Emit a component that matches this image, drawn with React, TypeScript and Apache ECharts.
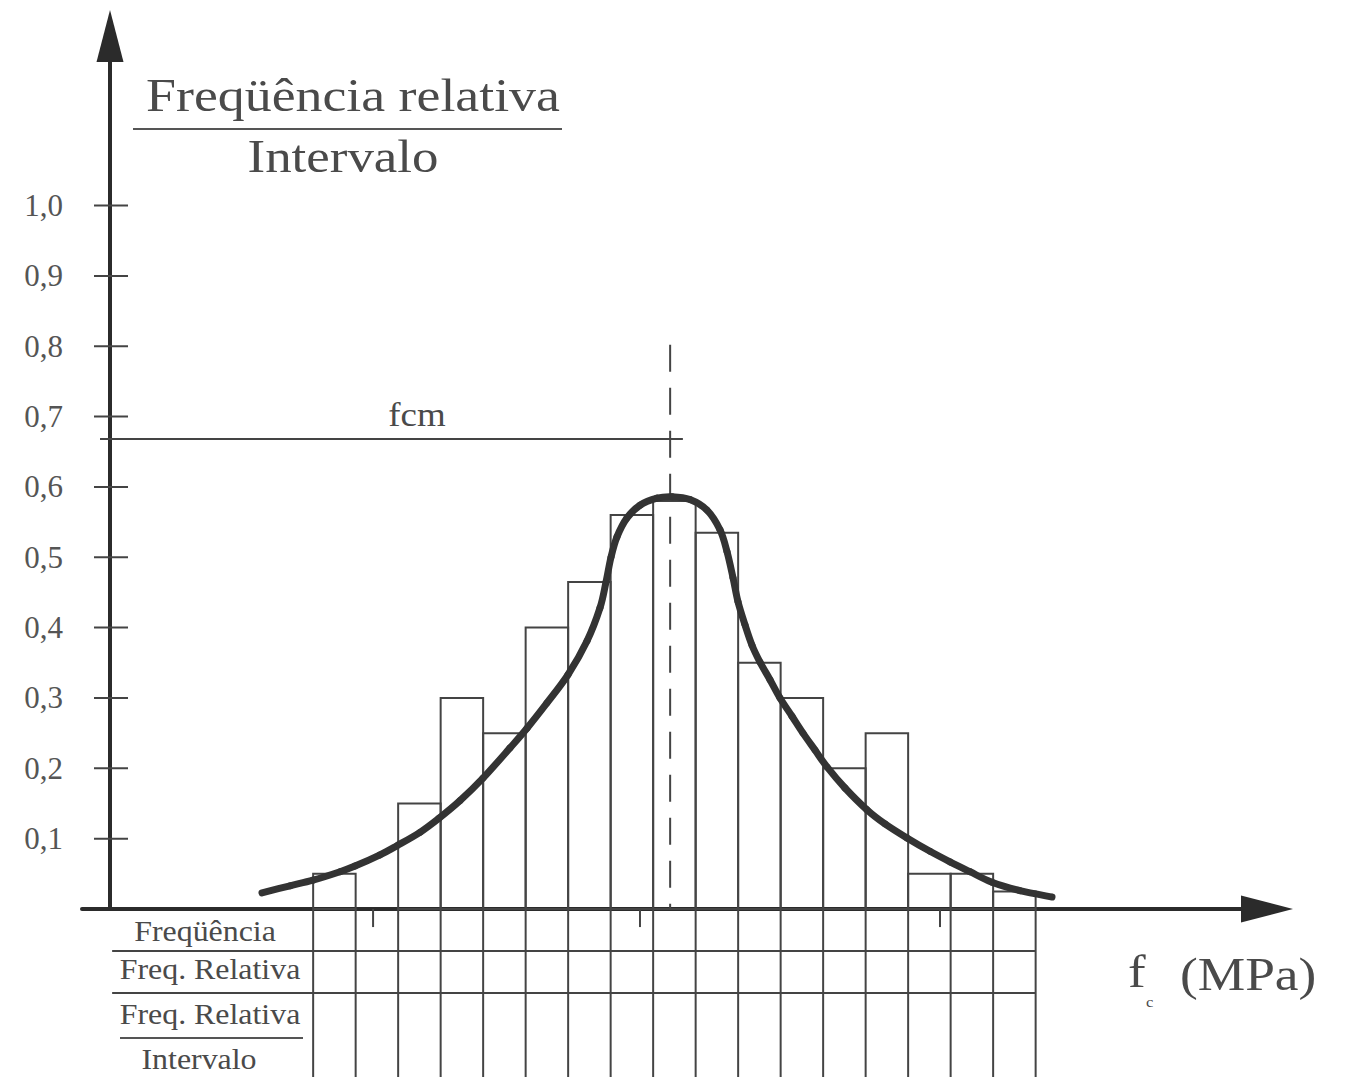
import React, { useEffect, useRef } from "react";
import * as echarts from "echarts";

// Relative frequency / interval of each strength class, left to right
const CLASS_VALUES = [0.05, 0, 0.15, 0.3, 0.25, 0.4, 0.465, 0.56, 0.58, 0.535, 0.35, 0.3, 0.2, 0.25, 0.05, 0.05, 0.025];
// Left edge of the first class, measured in class widths from the vertical axis
const FIRST_CLASS_EDGE = 4.78;

// Fitted density curve (x in class widths, y in relative frequency / interval)
const CURVE_X = [3.576, 4.235, 4.776, 5.412, 5.765, 6.353, 6.753, 7.294, 7.741, 8.235, 8.776, 9.412, 9.812, 10.282, 10.776, 11.224, 11.529, 11.671, 11.788, 11.929, 12.165, 12.471, 12.871, 13.224, 13.647, 14.047, 14.353, 14.518, 14.659, 14.776, 14.941, 15.106, 15.294, 15.529, 15.765, 16.047, 16.306, 16.588, 16.871, 17.294, 17.812, 18.235, 18.753, 19.294, 19.765, 20.235, 20.753, 21.412, 22.165];
const CURVE_Y = [0.023, 0.033, 0.041, 0.053, 0.061, 0.077, 0.09, 0.109, 0.129, 0.154, 0.186, 0.229, 0.257, 0.293, 0.333, 0.381, 0.428, 0.465, 0.5, 0.529, 0.556, 0.574, 0.584, 0.586, 0.582, 0.567, 0.539, 0.508, 0.471, 0.437, 0.404, 0.375, 0.351, 0.326, 0.3, 0.274, 0.25, 0.226, 0.202, 0.172, 0.141, 0.121, 0.101, 0.082, 0.067, 0.053, 0.038, 0.026, 0.017];

// Vertical axis ticks
const Y_TICKS = [0.1, 0.2, 0.3, 0.4, 0.5, 0.6, 0.7, 0.8, 0.9, 1.0];

// Mean strength fcm: position on the x axis, level of the dimension line and top of the dashed line
const FCM_X = 13.18;
const FCM_LEVEL = 0.668;
const FCM_LINE_START = -0.235;
const FCM_LINE_END = 13.48;
const MEAN_LINE_TOP = 0.802;

// Short marks under the horizontal axis
const AXIS_MARKS = [6.19, 12.47, 19.53];

// Table under the histogram (row boundaries in row units)
const TABLE_ROW_LINES = [1, 2];
const TABLE_ROWS = 4;

const X_MIN = -0.659;
const X_MAX = 27.224;
const Y_MAX = 1.241;

const INK = "#333333";
const LINE = "#444444";
const TEXT = "#4a4a4a";
const SERIF = "'Liberation Serif', 'Times New Roman', serif";

function buildOption() {
  const bars = CLASS_VALUES.map((v, i) => [FIRST_CLASS_EDGE + i, FIRST_CLASS_EDGE + i + 1, v]);
  const edges = CLASS_VALUES.map((_, i) => [FIRST_CLASS_EDGE + i, 0]);
  edges.push([FIRST_CLASS_EDGE + CLASS_VALUES.length, 0]);
  const lastEdge = FIRST_CLASS_EDGE + CLASS_VALUES.length;
  const curve = CURVE_X.map((x, i) => [x, CURVE_Y[i]]);
  const n = curve.length;

  const text = (
    str: string,
    x: number,
    y: number,
    size: number,
    scaleX: number,
    align: string = "center"
  ) => ({
    type: "text",
    x,
    y,
    scaleX,
    z: 20,
    style: {
      text: str,
      x: 0,
      y: 0,
      fill: TEXT,
      font: `${size}px ${SERIF}`,
      align,
      verticalAlign: "middle",
    },
  });

  return {
    animation: false,
    backgroundColor: "#ffffff",
    grid: [
      { left: 82, right: 92, top: 36, bottom: 168, containLabel: false, outerBoundsMode: "none" },
      { left: 82, right: 92, top: 909, height: 168, containLabel: false, outerBoundsMode: "none" },
    ],
    xAxis: [
      {
        type: "value",
        gridIndex: 0,
        min: X_MIN,
        max: X_MAX,
        axisLine: {
          show: true,
          symbol: ["none", "triangle"],
          symbolSize: [27, 52],
          lineStyle: { color: "#2b2b2b", width: 4 },
        },
        axisTick: { show: false },
        axisLabel: { show: false },
        splitLine: { show: false },
      },
      {
        type: "value",
        gridIndex: 1,
        min: X_MIN,
        max: X_MAX,
        show: false,
      },
    ],
    yAxis: [
      {
        type: "value",
        gridIndex: 0,
        min: 0,
        max: Y_MAX,
        interval: 0.1,
        axisLine: {
          show: true,
          onZero: true,
          symbol: ["none", "triangle"],
          symbolSize: [27, 52],
          lineStyle: { color: "#2b2b2b", width: 4 },
        },
        axisTick: { show: false },
        axisLabel: {
          margin: 19,
          color: "#555555",
          fontFamily: SERIF,
          fontSize: 31,
          showMaxLabel: false,
          formatter: (v: number) =>
            v > 0.05 && v < 1.05 ? v.toFixed(1).replace(".", ",") : "",
        },
        splitLine: { show: false },
      },
      {
        type: "value",
        gridIndex: 1,
        min: 0,
        max: TABLE_ROWS,
        inverse: true,
        show: false,
      },
    ],
    graphic: [
      text("Freqüência relativa", 353, 95, 46, 1.17),
      { type: "line", shape: { x1: 133, y1: 129, x2: 562, y2: 129 }, style: { stroke: "#555555", lineWidth: 2 }, z: 20 },
      text("Intervalo", 343, 157, 46, 1.15),
      text("fcm", 417, 415, 33, 1.12),
      text("Freqüência", 205, 931, 29, 1.1),
      text("Freq. Relativa", 210, 969, 29, 1.1),
      text("Freq. Relativa", 210, 1014, 29, 1.1),
      { type: "line", shape: { x1: 120, y1: 1038, x2: 303, y2: 1038 }, style: { stroke: "#555555", lineWidth: 2 }, z: 20 },
      text("Intervalo", 199, 1059, 29, 1.1),
      text("f", 1128, 972, 46, 1.15, "left"),
      text("c", 1146, 1002, 15, 1.1, "left"),
      text("(MPa)", 1180, 975, 46, 1.16, "left"),
    ],
    series: [
      {
        // histogram classes
        type: "custom",
        xAxisIndex: 0,
        yAxisIndex: 0,
        data: bars,
        encode: { x: [0, 1], y: 2 },
        z: 2,
        renderItem: (_p: any, api: any) => {
          const h = api.value(2);
          if (!h) return { type: "group", children: [] };
          const a = api.coord([api.value(0), h]);
          const b = api.coord([api.value(1), 0]);
          return {
            type: "rect",
            shape: { x: a[0], y: a[1], width: b[0] - a[0], height: b[1] - a[1] },
            style: { fill: "none", stroke: LINE, lineWidth: 2 },
          };
        },
      },
      {
        // tick marks crossing the vertical axis
        type: "custom",
        xAxisIndex: 0,
        yAxisIndex: 0,
        data: Y_TICKS.map((v) => [0, v]),
        encode: { x: 0, y: 1 },
        z: 3,
        renderItem: (_p: any, api: any) => {
          const p = api.coord([0, api.value(1)]);
          return {
            type: "line",
            shape: { x1: p[0] - 16, y1: p[1], x2: p[0] + 18, y2: p[1] },
            style: { stroke: LINE, lineWidth: 2 },
          };
        },
      },
      {
        // dashed line at the mean strength
        type: "line",
        xAxisIndex: 0,
        yAxisIndex: 0,
        data: [
          [FCM_X, MEAN_LINE_TOP],
          [FCM_X, 0],
        ],
        symbol: "none",
        z: 3,
        lineStyle: { color: LINE, width: 2, type: [27, 16] },
      },
      {
        // fcm dimension line
        type: "line",
        xAxisIndex: 0,
        yAxisIndex: 0,
        data: [
          [FCM_LINE_START, FCM_LEVEL],
          [FCM_LINE_END, FCM_LEVEL],
        ],
        symbol: "none",
        z: 3,
        lineStyle: { color: LINE, width: 2 },
      },
      {
        // fitted distribution curve: one cubic segment per point pair, tangents from the neighbours
        type: "custom",
        xAxisIndex: 0,
        yAxisIndex: 0,
        data: curve,
        encode: { x: 0, y: 1 },
        z: 6,
        renderItem: (p: any, api: any) => {
          const i = p.dataIndex;
          if (i >= n - 1) return { type: "group", children: [] };
          const pt = (k: number) => api.coord(curve[Math.max(0, Math.min(n - 1, k))]);
          const p0 = pt(i - 1);
          const p1 = pt(i);
          const p2 = pt(i + 1);
          const p3 = pt(i + 2);
          return {
            type: "bezierCurve",
            shape: {
              x1: p1[0],
              y1: p1[1],
              x2: p2[0],
              y2: p2[1],
              cpx1: p1[0] + (p2[0] - p0[0]) / 6,
              cpy1: p1[1] + (p2[1] - p0[1]) / 6,
              cpx2: p2[0] - (p3[0] - p1[0]) / 6,
              cpy2: p2[1] - (p3[1] - p1[1]) / 6,
            },
            style: { fill: "none", stroke: INK, lineWidth: 7, lineCap: "round" },
          };
        },
      },
      {
        // table column boundaries at every class edge
        type: "custom",
        xAxisIndex: 1,
        yAxisIndex: 1,
        data: edges,
        encode: { x: 0, y: 1 },
        z: 2,
        renderItem: (_p: any, api: any) => {
          const a = api.coord([api.value(0), 0]);
          const b = api.coord([api.value(0), TABLE_ROWS]);
          return {
            type: "line",
            shape: { x1: a[0], y1: a[1], x2: b[0], y2: b[1] },
            style: { stroke: LINE, lineWidth: 2 },
          };
        },
      },
      {
        // table row boundaries
        type: "custom",
        xAxisIndex: 1,
        yAxisIndex: 1,
        data: TABLE_ROW_LINES.map((r) => [0, r]),
        encode: { x: 0, y: 1 },
        z: 2,
        renderItem: (_p: any, api: any) => {
          const a = api.coord([0.05, api.value(1)]);
          const b = api.coord([lastEdge, api.value(1)]);
          return {
            type: "line",
            shape: { x1: a[0], y1: a[1], x2: b[0], y2: b[1] },
            style: { stroke: LINE, lineWidth: 2 },
          };
        },
      },
      {
        // short marks below the horizontal axis
        type: "custom",
        xAxisIndex: 1,
        yAxisIndex: 1,
        data: AXIS_MARKS.map((x) => [x, 0]),
        encode: { x: 0, y: 1 },
        z: 2,
        renderItem: (_p: any, api: any) => {
          const a = api.coord([api.value(0), 0]);
          const b = api.coord([api.value(0), 0.43]);
          return {
            type: "line",
            shape: { x1: a[0], y1: a[1], x2: b[0], y2: b[1] },
            style: { stroke: LINE, lineWidth: 2 },
          };
        },
      },
    ],
  };
}

export default function App() {
  const ref = useRef<HTMLDivElement>(null);
  useEffect(() => {
    if (!ref.current) return;
    const chart = echarts.init(ref.current, undefined, { renderer: "svg" });
    chart.setOption(buildOption() as any);
    return () => chart.dispose();
  }, []);
  return (
    <div
      ref={ref}
      style={{ position: "absolute", left: 0, top: 0, width: 1359, height: 1077 }}
    />
  );
}
